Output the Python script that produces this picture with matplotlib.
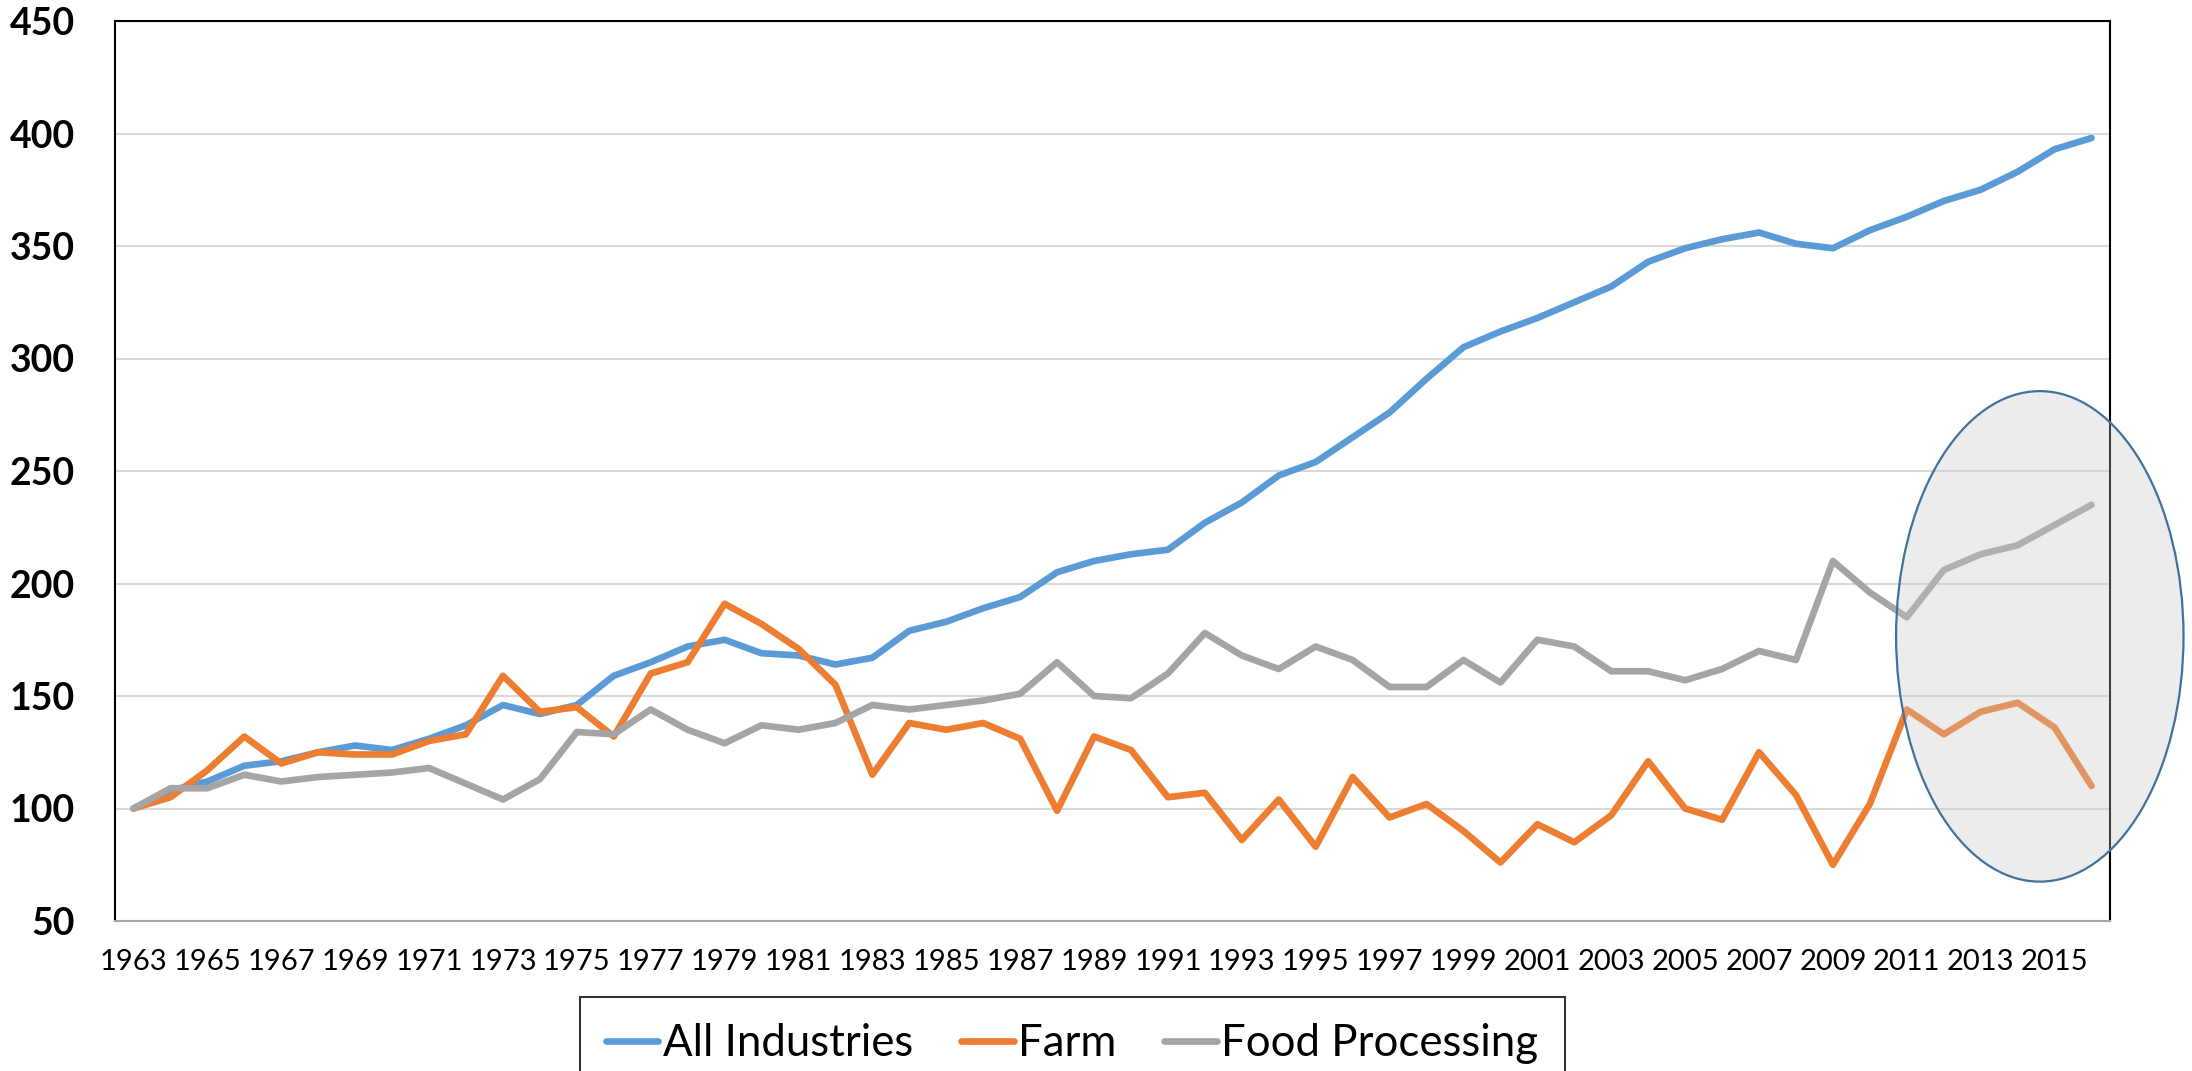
import matplotlib
matplotlib.use("Agg")
import matplotlib.pyplot as plt
from matplotlib.patches import Ellipse

years = list(range(1963, 2017))

all_industries = [100, 108, 112, 119, 121, 125, 128, 126, 131, 137,
                  146, 142, 146, 159, 165, 172, 175, 169, 168, 164,
                  167, 179, 183, 189, 194, 205, 210, 213, 215, 227,
                  236, 248, 254, 265, 276, 291, 305, 312, 318, 325,
                  332, 343, 349, 353, 356, 351, 349, 357, 363, 370,
                  375, 383, 393, 398]

farm = [100, 105, 117, 132, 120, 125, 124, 124, 130, 133,
        159, 143, 145, 132, 160, 165, 191, 182, 171, 155,
        115, 138, 135, 138, 131, 99, 132, 126, 105, 107,
        86, 104, 83, 114, 96, 102, 90, 76, 93, 85,
        97, 121, 100, 95, 125, 106, 75, 102, 144, 133,
        143, 147, 136, 110]

food_processing = [100, 109, 109, 115, 112, 114, 115, 116, 118, 111,
                   104, 113, 134, 133, 144, 135, 129, 137, 135, 138,
                   146, 144, 146, 148, 151, 165, 150, 149, 160, 178,
                   168, 162, 172, 166, 154, 154, 166, 156, 175, 172,
                   161, 161, 157, 162, 170, 166, 210, 196, 185, 206,
                   213, 217, 226, 235]

series_names = ["All Industries", "Farm", "Food Processing"]
colors = ["#5B9BD5", "#ED7D31", "#A5A5A5"]

fig = plt.figure(figsize=(21.92, 10.71), dpi=100)
ax = fig.add_axes([115 / 2192, 1 - 921 / 1071, (2110 - 115) / 2192, (921 - 21) / 1071])

for vals, name, c in zip([all_industries, farm, food_processing], series_names, colors):
    ax.plot(years, vals, color=c, lw=4.8, label=name, solid_capstyle="round", solid_joinstyle="round")

ax.set_xlim(1962.5, 2016.5)
ax.set_ylim(50, 450)
ax.set_yticks(range(50, 451, 50))
ax.set_xticks(years[::2])
ax.set_xticklabels([str(y) for y in years[::2]], fontsize=21, family="Lato")
for lab in ax.get_yticklabels():
    lab.set_fontsize(27)
    lab.set_fontweight("bold")
    lab.set_family("Lato")
ax.tick_params(axis="x", length=0, pad=20)
ax.tick_params(axis="y", length=0, pad=29)
ax.grid(axis="y", color="#D9D9D9", lw=1.5)
ax.set_axisbelow(True)
for s in ["left", "top", "right"]:
    ax.spines[s].set_color("black")
    ax.spines[s].set_linewidth(1.5)
ax.spines["bottom"].set_color("#A6A6A6")
ax.spines["bottom"].set_linewidth(1.5)

# highlight ellipse over the last years
ell = Ellipse((2014.6, 176.5), 7.78, 218, facecolor=(0.784, 0.784, 0.784, 0.33),
              edgecolor="#41719C", lw=1.6, clip_on=False, zorder=5)
ax.add_patch(ell)

leg = fig.legend(loc="upper center", bbox_to_anchor=(1072 / 2192, 1 - 997 / 1071),
                 ncol=3, frameon=True, fancybox=False, prop={"family": "Lato", "size": 31.5},
                 handlelength=1.2, handletextpad=0.1, columnspacing=1.1, borderpad=0.6,
                 borderaxespad=0)
leg.get_frame().set_edgecolor("black")
leg.get_frame().set_linewidth(1.5)

fig.savefig("out.png", dpi=100)
